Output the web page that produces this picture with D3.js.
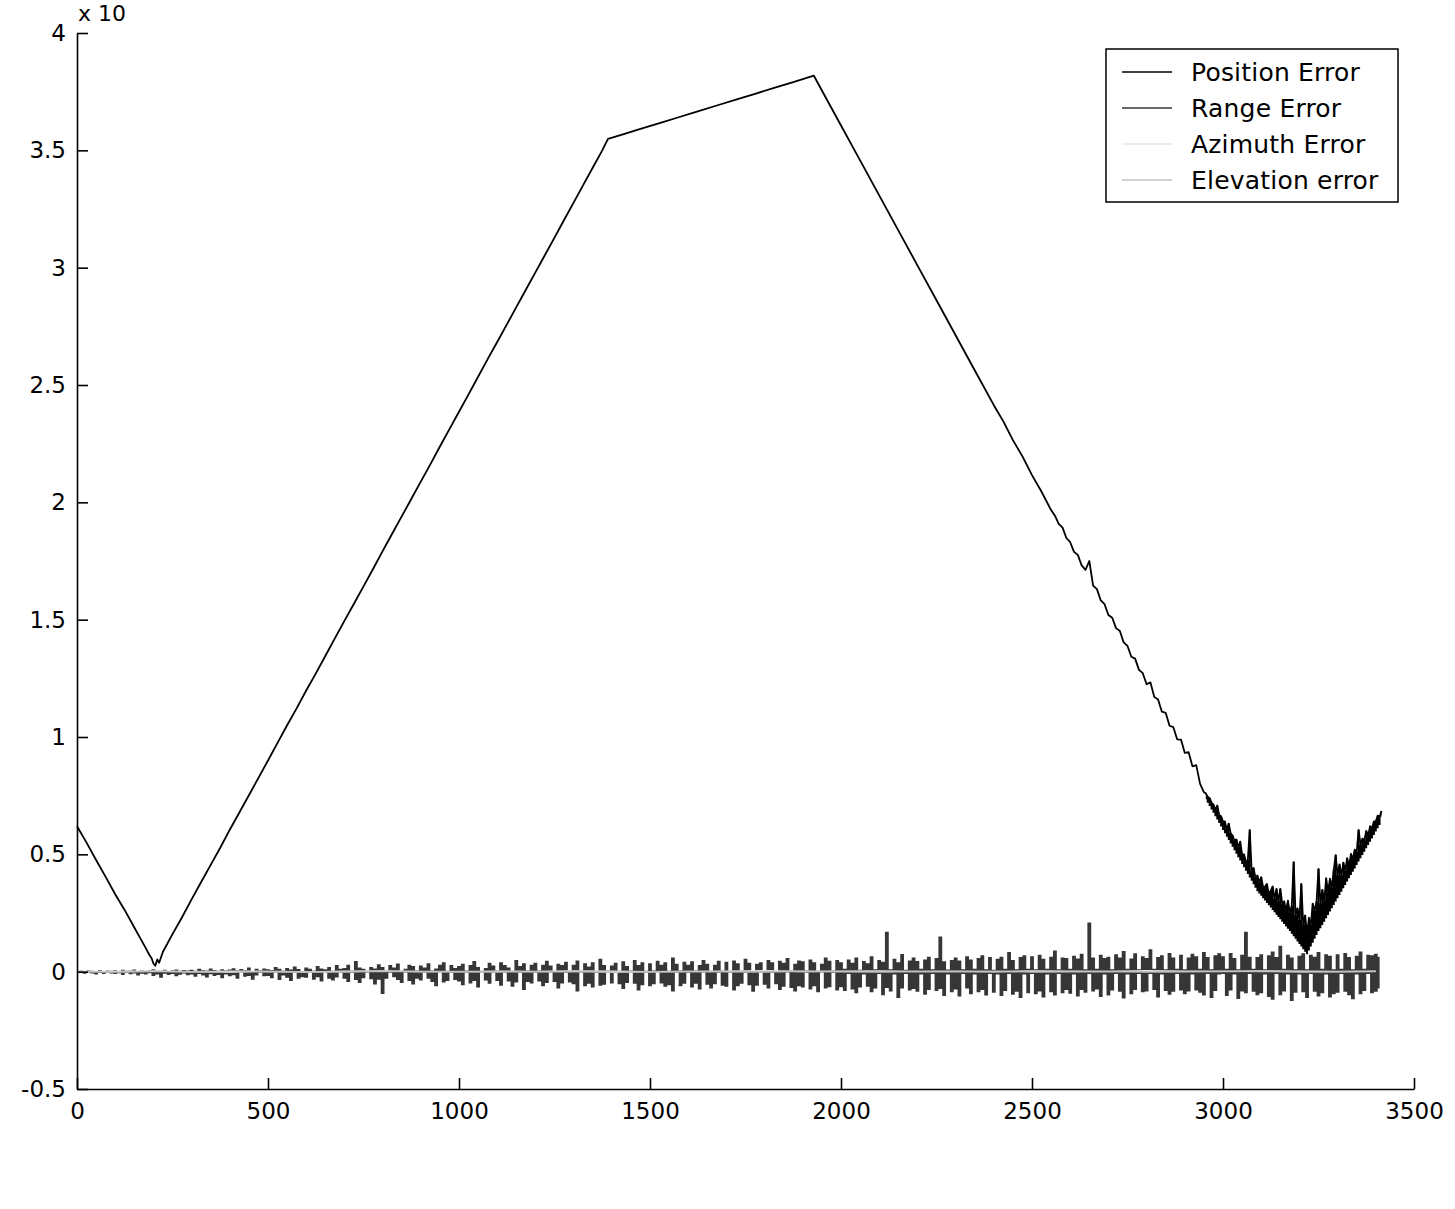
<!DOCTYPE html>
<html>
<head>
<meta charset="utf-8">
<script src="https://cdn.jsdelivr.net/npm/d3@7"></script>
<style>
    body { margin: 0; background: #fff; }
    svg { display: block; }
    .tick text, .legend text, .exp { font-family: "DejaVu Sans", sans-serif; fill: #000; }
</style>
</head>
<body>
<div id="chart"></div>
<script>
// ---- data ----
const xTicks = [0, 500, 1000, 1500, 2000, 2500, 3000, 3500]
const yTicks = [-0.5, 0, 0.5, 1, 1.5, 2, 2.5, 3, 3.5, 4]
const seriesNames = ["Position Error", "Range Error", "Azimuth Error", "Elevation error"]

// position error, clean part as [x, y] pairs (corners included)
const posCoarse = [
    [0, 0.620], [25, 0.550], [50, 0.476], [75, 0.404], [100, 0.330], [125, 0.262], [150, 0.188],
    [175, 0.115], [190, 0.070], [195, 0.058], [200, 0.035], [205, 0.025], [210, 0.052], [215, 0.038],
    [225, 0.085], [250, 0.160], [275, 0.232], [300, 0.308], [325, 0.382], [350, 0.455], [375, 0.528],
    [400, 0.605], [425, 0.678], [450, 0.752], [475, 0.826], [500, 0.900], [525, 0.975], [550, 1.050],
    [575, 1.122], [600, 1.198], [625, 1.270], [650, 1.345], [675, 1.420], [700, 1.495], [725, 1.568],
    [750, 1.642], [775, 1.716], [800, 1.792], [825, 1.866], [850, 1.940], [875, 2.014], [900, 2.088],
    [925, 2.162], [950, 2.238], [975, 2.312], [1000, 2.386], [1025, 2.460], [1050, 2.535], [1075, 2.610],
    [1100, 2.683], [1125, 2.757], [1150, 2.832], [1175, 2.906], [1200, 2.980], [1225, 3.054],
    [1250, 3.128], [1275, 3.203], [1300, 3.277], [1325, 3.352], [1350, 3.426], [1375, 3.500],
    [1390, 3.549], [1425, 3.566], [1475, 3.591], [1525, 3.616], [1575, 3.641], [1625, 3.666],
    [1675, 3.691], [1725, 3.716], [1775, 3.741], [1825, 3.766], [1875, 3.791], [1929, 3.818],
    [1950, 3.755], [2000, 3.606], [2050, 3.457], [2100, 3.308], [2150, 3.159], [2200, 3.010],
    [2250, 2.861], [2300, 2.712], [2350, 2.563], [2400, 2.414], [2425, 2.345], [2450, 2.265],
    [2475, 2.196], [2500, 2.116], [2525, 2.045], [2550, 1.967]
]
// position error, x = 2560, 2570, ... 2950
const posMid = [
    1.943, 1.908, 1.892, 1.848, 1.830, 1.789, 1.776, 1.731, 1.712, 1.750,
    1.645, 1.630, 1.582, 1.566, 1.520, 1.508, 1.464, 1.452, 1.403, 1.388,
    1.342, 1.334, 1.286, 1.272, 1.225, 1.233, 1.171, 1.160, 1.108, 1.103,
    1.048, 1.042, 0.990, 0.989, 0.932, 0.935, 0.875, 0.880, 0.800, 0.765
]
// position error, x = 2955, 2960, ... 3415 : lower edge of the band and noisy top
const posLow = [
    0.735, 0.720, 0.706, 0.691, 0.677, 0.662, 0.648, 0.633, 0.619, 0.604,
    0.590, 0.575, 0.561, 0.546, 0.532, 0.517, 0.503, 0.488, 0.474, 0.459,
    0.445, 0.430, 0.416, 0.401, 0.387, 0.372, 0.358, 0.343, 0.333, 0.323,
    0.313, 0.303, 0.293, 0.283, 0.273, 0.263, 0.253, 0.243, 0.233, 0.223,
    0.213, 0.203, 0.193, 0.183, 0.173, 0.162, 0.151, 0.140, 0.129, 0.118,
    0.107, 0.096, 0.085, 0.074, 0.090, 0.107, 0.123, 0.140, 0.156, 0.173,
    0.185, 0.199, 0.213, 0.228, 0.242, 0.256, 0.270, 0.284, 0.299, 0.313,
    0.327, 0.341, 0.355, 0.369, 0.384, 0.398, 0.412, 0.426, 0.440, 0.455,
    0.469, 0.483, 0.497, 0.511, 0.526, 0.540, 0.554, 0.568, 0.582, 0.597,
    0.611, 0.625, 0.660
]
const posFine = [
    0.760, 0.745, 0.740, 0.720, 0.712, 0.690, 0.708, 0.668, 0.662, 0.640,
    0.640, 0.605, 0.631, 0.590, 0.580, 0.560, 0.563, 0.530, 0.554, 0.500,
    0.500, 0.470, 0.476, 0.604, 0.430, 0.442, 0.400, 0.410, 0.380, 0.403,
    0.360, 0.363, 0.374, 0.330, 0.345, 0.363, 0.310, 0.353, 0.300, 0.353,
    0.290, 0.300, 0.260, 0.303, 0.250, 0.280, 0.467, 0.240, 0.270, 0.220,
    0.374, 0.200, 0.240, 0.160, 0.230, 0.200, 0.290, 0.260, 0.300, 0.438,
    0.290, 0.349, 0.300, 0.398, 0.340, 0.396, 0.360, 0.434, 0.497, 0.410,
    0.457, 0.410, 0.465, 0.430, 0.484, 0.450, 0.502, 0.480, 0.520, 0.510,
    0.604, 0.540, 0.567, 0.560, 0.600, 0.580, 0.620, 0.610, 0.640, 0.640,
    0.665, 0.660, 0.685
]

// range error envelope in thousandths (top and bottom of the noise), x = 0, 10, ... 3410
const rangeHi = [
    3, 5, 2, 6, 4, 3, 7, 2, 5, 4,
    6, 3, 8, 4, 5, 9, 3, 6, 4, 7,
    10, 5, 4, 8, 3, 6, 9, 4, 7, 5,
    8, 4, 12, 6, 5, 14, 7, 4, 10, 6,
    9, 15, 6, 11, 7, 18, 3, 12, 6, 14,
    10, 7, 20, 12, 4, 16, 9, 22, 11, 3,
    18, 12, 4, 24, 14, 10, 20, 4, 28, 12,
    16, 30, 5, 45, 18, 12, 4, 20, 14, 32,
    20, 5, 28, 18, 35, 4, 12, 30, 24, 5,
    26, 18, 36, 5, 14, 30, 40, 4, 28, 16,
    24, 34, 5, 28, 45, 20, 4, 16, 38, 26,
    5, 40, 28, 18, 4, 50, 24, 36, 5, 30,
    38, 5, 30, 46, 26, 4, 34, 28, 42, 5,
    30, 48, 5, 36, 22, 40, 4, 55, 28, 5,
    26, 38, 4, 44, 24, 5, 50, 28, 40, 4,
    36, 5, 46, 30, 40, 4, 60, 34, 5, 42,
    30, 44, 5, 28, 50, 34, 4, 30, 46, 5,
    42, 4, 48, 36, 5, 55, 38, 4, 34, 40,
    5, 50, 40, 4, 46, 38, 58, 5, 34, 48,
    44, 5, 52, 40, 4, 34, 60, 46, 5, 50,
    40, 12, 52, 38, 60, 8, 45, 36, 66, 10,
    50, 42, 170, 10, 55, 40, 75, 8, 48, 60,
    45, 12, 52, 64, 10, 58, 150, 44, 9, 50,
    60, 48, 10, 66, 52, 12, 58, 70, 10, 62,
    8, 55, 64, 12, 84, 50, 10, 62, 70, 12,
    66, 10, 72, 55, 12, 64, 90, 10, 60, 58,
    12, 68, 56, 76, 10, 210, 60, 12, 72, 58,
    64, 10, 74, 60, 88, 12, 56, 78, 10, 66,
    58, 96, 12, 62, 70, 10, 80, 60, 12, 72,
    10, 60, 76, 66, 12, 84, 62, 10, 70, 78,
    66, 12, 80, 58, 10, 72, 170, 64, 12, 62,
    74, 10, 70, 86, 62, 110, 12, 72, 60, 10,
    68, 78, 10, 72, 64, 84, 12, 74, 68, 10,
    74, 12, 80, 62, 10, 68, 86, 12, 72, 70,
    76, 64
]
const rangeLo = [
    -6, -4, -9, -5, -8, -12, -6, -10, -5, -8,
    -10, -7, -14, -6, -11, -8, -16, -9, -12, -7,
    -18, -12, -26, -9, -14, -10, -20, -13, -8, -15,
    -12, -22, -10, -16, -25, -11, -18, -14, -28, -12,
    -20, -15, -30, -4, -22, -18, -34, -16, -5, -20,
    -18, -28, -4, -36, -16, -26, -40, -5, -30, -24,
    -26, -5, -34, -24, -42, -4, -30, -38, -25, -5,
    -30, -44, -5, -36, -48, -28, -4, -32, -55, -34,
    -95, -30, -5, -24, -36, -48, -4, -40, -55, -30,
    -38, -5, -30, -44, -62, -4, -46, -40, -5, -36,
    -42, -58, -5, -50, -40, -68, -4, -38, -52, -5,
    -40, -60, -4, -42, -64, -46, -5, -78, -44, -50,
    -5, -42, -62, -48, -4, -44, -72, -50, -5, -46,
    -54, -85, -4, -62, -52, -68, -5, -60, -56, -4,
    -50, -5, -54, -74, -48, -4, -52, -80, -58, -5,
    -62, -54, -4, -50, -64, -58, -84, -5, -62, -52,
    -5, -68, -52, -76, -4, -56, -72, -54, -5, -60,
    -64, -4, -80, -62, -52, -5, -58, -86, -60, -4,
    -56, -72, -5, -54, -78, -64, -4, -70, -84, -62,
    -68, -5, -76, -62, -88, -4, -72, -66, -5, -80,
    -66, -82, -10, -76, -92, -68, -12, -64, -88, -72,
    -10, -100, -70, -84, -12, -112, -72, -10, -80, -74,
    -86, -12, -98, -78, -10, -82, -74, -104, -12, -88,
    -76, -106, -10, -72, -96, -12, -88, -78, -102, -10,
    -90, -12, -104, -82, -10, -98, -86, -112, -12, -92,
    -10, -96, -84, -110, -12, -88, -102, -10, -92, -78,
    -94, -12, -106, -78, -90, -10, -84, -76, -108, -12,
    -102, -80, -10, -86, -114, -12, -96, -78, -10, -88,
    -84, -10, -78, -110, -12, -82, -98, -86, -10, -80,
    -96, -84, -12, -80, -90, -102, -10, -112, -82, -12,
    -10, -104, -80, -12, -116, -84, -92, -10, -86, -100,
    -92, -12, -108, -120, -10, -100, -84, -12, -125, -90,
    -12, -88, -112, -10, -86, -106, -92, -12, -110, -96,
    -90, -10, -86, -100, -118, -12, -96, -82, -10, -92,
    -86, -72
]

// azimuth / elevation error in thousandths, x = 0, 100, ... 3400
const azimuthErr = [2, 1, 3, 0, 2, 1, -1, 2, 3, 1, 0, 2, 1, 3, 2, 0, 1, 2, 4, 1,
    2, 3, 1, 2, 0, 3, 2, 1, 4, 2, 1, 3, 2, 1, 2]
const elevationErr = [0, -1, 1, 0, -2, 1, 0, -1, 2, 0, 1, -1, 0, 1, -2, 0, 1, 0, -1, 2,
    0, -1, 1, 0, 2, -1, 0, 1, -1, 0, 2, 1, -1, 0, 1]

const colors = ["#000000", "#363636", "#e6e6e6", "#c2c2c2"]

// ---- layout ----
const width = 1455, height = 1209
const margin = {top: 33, right: 41, bottom: 120, left: 77}

const svg = d3.select("#chart").append("svg")
    .attr("width", width)
    .attr("height", height)

svg.append("rect").attr("width", width).attr("height", height).attr("fill", "#fff")

const x = d3.scaleLinear().domain([0, 3500]).range([margin.left, width - margin.right])
const y = d3.scaleLinear().domain([-0.5, 4]).range([height - margin.bottom, margin.top])

// build series
const bandData = posFine.map((v, i) => ({x: 2955 + i * 5, lo: posLow[i], hi: v}))
const posData = posCoarse
    .concat(posMid.map((v, i) => [2560 + i * 10, v]))
    .concat(bandData.map(d => [d.x, d.hi]))
const rangeData = rangeHi.map((v, i) => ({x: i * 10, hi: v / 1000, lo: rangeLo[i] / 1000}))
const azData = azimuthErr.map((v, i) => [i * 100, v / 1000])
const elData = elevationErr.map((v, i) => [i * 100, v / 1000])

const line = d3.line().x(d => x(d[0])).y(d => y(d[1]))
const band = d3.area().x(d => x(d.x)).y0(d => y(d.lo)).y1(d => y(d.hi)).curve(d3.curveStep)

// position error: line plus the dense noisy band near the minimum
svg.append("path").datum(bandData)
    .attr("fill", colors[0])
    .attr("d", band)
svg.append("path").datum(posData)
    .attr("fill", "none").attr("stroke", colors[0]).attr("stroke-width", 1.8)
    .attr("stroke-linejoin", "round")
    .attr("d", line)

// range error: dense noise drawn as its filled envelope
svg.append("path").datum(rangeData)
    .attr("fill", colors[1])
    .attr("d", band)

svg.append("path").datum(azData)
    .attr("fill", "none").attr("stroke", colors[2]).attr("stroke-width", 1.5)
    .attr("d", line)
svg.append("path").datum(elData)
    .attr("fill", "none").attr("stroke", colors[3]).attr("stroke-width", 1.5)
    .attr("d", line)

// axes (left + bottom only, ticks pointing inward)
const xAxis = svg.append("g")
    .attr("transform", "translate(0," + (height - margin.bottom) + ")")
    .call(d3.axisBottom(x).tickValues(xTicks).tickFormat(d => String(d))
        .tickSizeInner(-11).tickSizeOuter(0).tickPadding(13))
const yAxis = svg.append("g")
    .attr("transform", "translate(" + margin.left + ",0)")
    .call(d3.axisLeft(y).tickValues(yTicks).tickFormat(d => String(d))
        .tickSizeInner(-11).tickSizeOuter(0).tickPadding(11))

svg.selectAll(".domain, .tick line").attr("stroke", "#000").attr("stroke-width", 1.6)
svg.selectAll(".tick text").attr("font-size", 23)
xAxis.selectAll(".tick text").attr("dy", "0.72em")

svg.append("text").attr("class", "exp")
    .attr("x", 78).attr("y", 21)
    .attr("font-size", 22)
    .text("x 10")

// legend
const legend = svg.append("g").attr("class", "legend")
legend.append("rect")
    .attr("x", 1106).attr("y", 49).attr("width", 292).attr("height", 153)
    .attr("fill", "#fff").attr("stroke", "#000").attr("stroke-width", 1.5)

seriesNames.forEach((name, i) => {
    const ly = 72 + i * 36
    legend.append("line")
        .attr("x1", 1122).attr("x2", 1172).attr("y1", ly).attr("y2", ly)
        .attr("stroke", colors[i]).attr("stroke-width", 1.5)
    legend.append("text")
        .attr("x", 1191).attr("y", ly).attr("dy", "0.36em")
        .attr("font-size", 25).attr("letter-spacing", 0.2)
        .text(name)
})
</script>
</body>
</html>
